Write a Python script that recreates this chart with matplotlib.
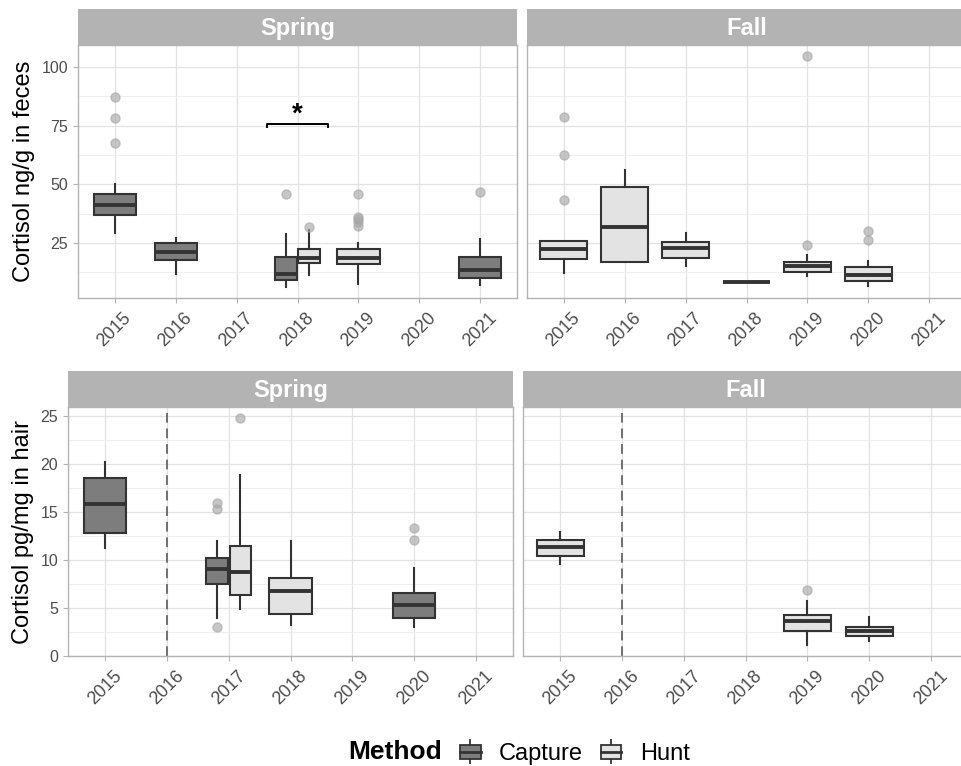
import matplotlib
matplotlib.use('Agg')
import matplotlib.pyplot as plt
from matplotlib.patches import Rectangle
from matplotlib.lines import Line2D
from matplotlib.legend_handler import HandlerBase
from matplotlib.ticker import MultipleLocator

plt.rcParams['font.family'] = ['Liberation Sans', 'DejaVu Sans']

# ---------------- data ----------------
years = [2015, 2016, 2017, 2018, 2019, 2020, 2021]
year_labels = [str(y) for y in years]
methods = ['Capture', 'Hunt']
method_colors = {'Capture': '#7d7d7d', 'Hunt': '#e3e3e3'}

# Feces, Spring, Capture
fs_cap_years = [2015, 2016, 2018, 2021]
fs_cap_whislo = [29.3, 11.8, 6.4, 6.9]
fs_cap_q1 = [36.8, 17.9, 9.2, 9.9]
fs_cap_med = [41.1, 21.0, 11.6, 13.5]
fs_cap_q3 = [45.8, 25.0, 18.9, 18.9]
fs_cap_whishi = [50.3, 27.1, 28.7, 26.7]
fs_cap_out = [[87.3, 78.1, 67.7], [], [45.8], [46.6]]

# Feces, Spring, Hunt
fs_hunt_years = [2018, 2019]
fs_hunt_whislo = [11.2, 7.6]
fs_hunt_q1 = [16.5, 16.0]
fs_hunt_med = [18.7, 18.7]
fs_hunt_q3 = [22.3, 22.2]
fs_hunt_whishi = [30.6, 25.0]
fs_hunt_out = [[31.8], [45.8, 36.2, 35.1, 33.8, 32.1]]

# Feces, Fall, Hunt
ff_hunt_years = [2015, 2016, 2017, 2018, 2019, 2020]
ff_hunt_whislo = [12.3, 17.0, 15.3, 8.2, 10.8, 6.5]
ff_hunt_q1 = [18.2, 17.0, 18.7, 8.2, 12.8, 8.8]
ff_hunt_med = [22.6, 31.8, 22.7, 8.2, 15.0, 11.1]
ff_hunt_q3 = [25.9, 48.9, 25.3, 8.2, 16.9, 14.8]
ff_hunt_whishi = [25.9, 56.0, 29.3, 8.2, 19.7, 17.3]
ff_hunt_out = [[78.9, 62.6, 43.4], [], [], [], [104.8, 24.3], [30.0, 26.3]]

# Hair, Spring, Capture
hs_cap_years = [2015, 2017, 2020]
hs_cap_whislo = [11.2, 3.9, 3.0]
hs_cap_q1 = [12.8, 7.5, 3.9]
hs_cap_med = [15.8, 9.0, 5.3]
hs_cap_q3 = [18.5, 10.2, 6.5]
hs_cap_whishi = [20.2, 12.0, 9.2]
hs_cap_out = [[], [15.9, 15.3, 3.0], [13.35, 12.1]]

# Hair, Spring, Hunt
hs_hunt_years = [2017, 2018]
hs_hunt_whislo = [4.85, 3.2]
hs_hunt_q1 = [6.3, 4.4]
hs_hunt_med = [8.75, 6.8]
hs_hunt_q3 = [11.4, 8.1]
hs_hunt_whishi = [18.9, 12.0]
hs_hunt_out = [[24.8], []]

# Hair, Fall, Hunt
hf_hunt_years = [2015, 2019, 2020]
hf_hunt_whislo = [9.6, 1.1, 1.5]
hf_hunt_q1 = [10.4, 2.6, 2.06]
hf_hunt_med = [11.3, 3.6, 2.6]
hf_hunt_q3 = [12.1, 4.2, 3.0]
hf_hunt_whishi = [12.9, 5.75, 4.0]
hf_hunt_out = [[], [6.9], []]

# annotations
sig_year = 2018
sig_value = 75.8
sig_label = '*'
dashed_year = 2016

feces_ylabel = 'Cortisol ng/g in feces'
hair_ylabel = 'Cortisol pg/mg in hair'
legend_title = 'Method'


def make_stats(yrs, lo, q1, med, q3, hi, out):
    return {y: dict(whislo=a, q1=b, med=c, q3=d, whishi=e, fliers=f)
            for y, a, b, c, d, e, f in zip(yrs, lo, q1, med, q3, hi, out)}


panels = {
    ('feces', 'Spring'): {
        'Capture': make_stats(fs_cap_years, fs_cap_whislo, fs_cap_q1, fs_cap_med, fs_cap_q3, fs_cap_whishi, fs_cap_out),
        'Hunt': make_stats(fs_hunt_years, fs_hunt_whislo, fs_hunt_q1, fs_hunt_med, fs_hunt_q3, fs_hunt_whishi, fs_hunt_out),
    },
    ('feces', 'Fall'): {
        'Capture': {},
        'Hunt': make_stats(ff_hunt_years, ff_hunt_whislo, ff_hunt_q1, ff_hunt_med, ff_hunt_q3, ff_hunt_whishi, ff_hunt_out),
    },
    ('hair', 'Spring'): {
        'Capture': make_stats(hs_cap_years, hs_cap_whislo, hs_cap_q1, hs_cap_med, hs_cap_q3, hs_cap_whishi, hs_cap_out),
        'Hunt': make_stats(hs_hunt_years, hs_hunt_whislo, hs_hunt_q1, hs_hunt_med, hs_hunt_q3, hs_hunt_whishi, hs_hunt_out),
    },
    ('hair', 'Fall'): {
        'Capture': {},
        'Hunt': make_stats(hf_hunt_years, hf_hunt_whislo, hf_hunt_q1, hf_hunt_med, hf_hunt_q3, hf_hunt_whishi, hf_hunt_out),
    },
}

# ---------------- figure ----------------
W, H = 961, 766
fig = plt.figure(figsize=(W / 100, H / 100), dpi=100)

EDGE = '#333333'
GRID = '#e2e2e2'
BORDER = '#b3b3b3'
TICKTXT = '#4d4d4d'


def px_axes(x0, y0, x1, y1):
    return fig.add_axes([x0 / W, 1 - y1 / H, (x1 - x0) / W, (y1 - y0) / H])


layout = {
    ('feces', 'Spring'): (78, 9, 45, 298, 439),
    ('feces', 'Fall'): (527, 9, 45, 298, 439),
    ('hair', 'Spring'): (68, 371, 407, 656, 445),
    ('hair', 'Fall'): (523, 371, 407, 656, 445),
}

single_width = {'Spring': 0.69, 'Fall': 0.76}
dodge_width = 0.35
dodge_off = 0.19

axes = {}
for (kind, season), (x0, ys, yp, yb, w) in layout.items():
    ax = px_axes(x0, yp, x0 + w, yb)
    sax = px_axes(x0, ys, x0 + w, yp)
    sax.set_facecolor(BORDER)
    sax.set_xticks([]); sax.set_yticks([])
    for s in sax.spines.values():
        s.set_visible(False)
    sax.text(0.5, 0.45, season, transform=sax.transAxes, ha='center', va='center',
             color='white', fontsize=17, fontweight='bold')
    axes[(kind, season)] = ax

    data = panels[(kind, season)]
    for m in methods:
        st = data[m]
        if not st:
            continue
        stats, pos, wid = [], [], []
        for y, s in st.items():
            xi = years.index(y)
            present = [mm for mm in methods if y in data[mm]]
            if len(present) == 2:
                off = -dodge_off if m == 'Capture' else dodge_off
                pos.append(xi + off); wid.append(dodge_width)
            else:
                pos.append(xi); wid.append(single_width[season])
            stats.append(s)
        ax.bxp(stats, positions=pos, widths=wid, patch_artist=True, showcaps=False,
               boxprops=dict(facecolor=method_colors[m], edgecolor=EDGE, linewidth=1.5),
               medianprops=dict(color=EDGE, linewidth=2.8, solid_capstyle='butt'),
               whiskerprops=dict(color=EDGE, linewidth=1.5),
               flierprops=dict(marker='o', markerfacecolor='#a8a8a8', markeredgecolor='#a8a8a8',
                               alpha=0.65, markersize=6.5),
               manage_ticks=False, zorder=3)

    ax.set_xlim(-0.6, len(years) - 0.4)
    ax.set_xticks(range(len(years)))
    ax.set_xticklabels(year_labels, rotation=45, ha='center', fontsize=13, color=TICKTXT)
    if kind == 'feces':
        ax.set_ylim(1.5, 109.4)
        ax.yaxis.set_major_locator(MultipleLocator(25))
        ax.yaxis.set_minor_locator(MultipleLocator(12.5))
    else:
        ax.set_ylim(-0.03, 25.95)
        ax.yaxis.set_major_locator(MultipleLocator(5))
        ax.yaxis.set_minor_locator(MultipleLocator(2.5))
    ax.tick_params(axis='y', labelsize=11.5, colors=BORDER, labelcolor=TICKTXT, length=3.5, width=0.8, pad=3.5)
    ax.tick_params(axis='x', colors=BORDER, labelcolor=TICKTXT, length=3.5, width=0.8, pad=5)
    ax.tick_params(axis='y', which='minor', length=0)
    if season == 'Fall':
        ax.tick_params(axis='y', which='both', left=False, labelleft=False)
    ax.grid(True, which='major', color=GRID, linewidth=0.9, zorder=0)
    ax.grid(True, which='minor', axis='y', color='#ececec', linewidth=0.6, zorder=0)
    ax.set_axisbelow(True)
    for s in ax.spines.values():
        s.set_color(BORDER)
        s.set_linewidth(1.0)

    if kind == 'hair':
        ax.axvline(years.index(dashed_year), color='#707070', linestyle=(0, (5, 3)),
                   linewidth=1.4, zorder=2)

# significance bracket
ax = axes[('feces', 'Spring')]
xs = years.index(sig_year)
tick_h = 1.2
ax.plot([xs - 0.5, xs - 0.5, xs + 0.5, xs + 0.5],
        [sig_value - tick_h, sig_value, sig_value, sig_value - tick_h],
        color='black', linewidth=1.4, zorder=4)
ax.text(xs, sig_value - 1.5, sig_label, ha='center', va='bottom', fontsize=20, fontweight='bold')

# y labels
fig.text(24 / W, 1 - 171 / H, feces_ylabel, rotation=90, ha='center', va='center', fontsize=17)
fig.text(23 / W, 1 - 532 / H, hair_ylabel, rotation=90, ha='center', va='center', fontsize=17)


# legend
class BoxKeyHandler(HandlerBase):
    def create_artists(self, legend, orig_handle, xdescent, ydescent, width, height, fontsize, trans):
        fc = orig_handle.get_facecolor()
        x0, y0 = -xdescent, -ydescent
        cx = x0 + width / 2
        lo = y0 + height * 0.18
        hi = y0 + height * 0.82
        rect = Rectangle((x0 + width * 0.06, lo), width * 0.88, hi - lo, facecolor=fc,
                         edgecolor=EDGE, linewidth=1.3, transform=trans)
        med = Line2D([x0 + width * 0.06, x0 + width * 0.94], [y0 + height / 2] * 2,
                     color=EDGE, linewidth=2.0, transform=trans)
        w1 = Line2D([cx, cx], [y0 - height * 0.05, lo], color=EDGE, linewidth=1.3, transform=trans)
        w2 = Line2D([cx, cx], [hi, y0 + height * 1.05], color=EDGE, linewidth=1.3, transform=trans)
        return [w1, w2, rect, med]


handles = [Rectangle((0, 0), 1, 1, facecolor=method_colors[m]) for m in methods]
fig.text(348 / W, 1 - 752 / H, legend_title, fontsize=19, fontweight='bold', ha='left', va='center')
fig.legend(handles, methods, handler_map={Rectangle: BoxKeyHandler()},
           loc='center left', bbox_to_anchor=(459 / W, 1 - 753 / H), ncol=2, frameon=False,
           fontsize=17, handlelength=0.97, handleheight=1.0, handletextpad=0.72,
           columnspacing=0.72, borderpad=0, borderaxespad=0)

fig.savefig('out.png', dpi=100)
